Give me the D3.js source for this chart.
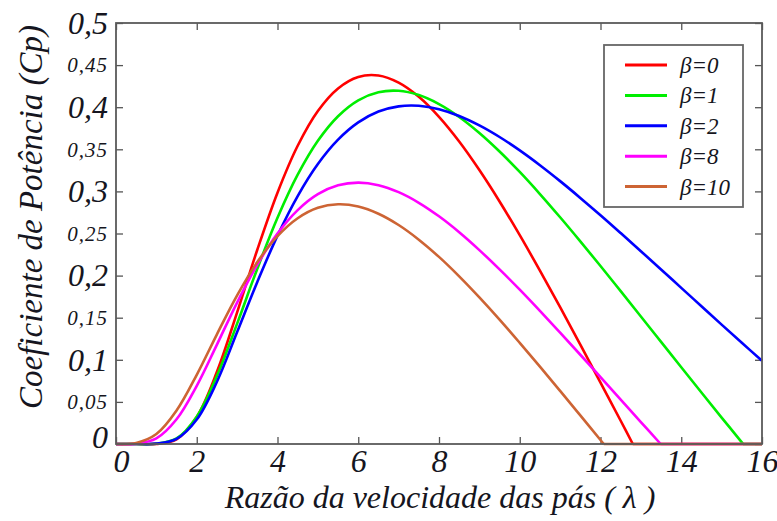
<!DOCTYPE html>
<html>
<head>
<meta charset="utf-8">
<script src="https://cdn.jsdelivr.net/npm/d3@7"></script>
<style>
    body { margin: 0; background: #fff; }
    svg text { font-family: "Liberation Serif", "Times New Roman", serif; font-style: italic; fill: #151520; }
</style>
</head>
<body>
<script>
// tip speed ratio samples (0 .. 16, step 0.5)
var lambdaSamples = [0, 0.5, 1, 1.5, 2, 2.5, 3, 3.5, 4, 4.5, 5, 5.5, 6, 6.5, 7, 7.5, 8,
    8.5, 9, 9.5, 10, 10.5, 11, 11.5, 12, 12.5, 13, 13.5, 14, 14.5, 15, 15.5, 16];

// Cp for each pitch angle
var cpBeta0 = [0, 0, 0.0001, 0.0056, 0.0322, 0.0857, 0.1564, 0.2307, 0.2985, 0.3542, 0.3955,
    0.4223, 0.4359, 0.4376, 0.4291, 0.4123, 0.3885, 0.3592, 0.3253, 0.2880, 0.2480, 0.2059,
    0.1625, 0.1180, 0.0730, 0.0276, 0, 0, 0, 0, 0, 0, 0];
var cpBeta1 = [0, 0, 0.0003, 0.0066, 0.0325, 0.0809, 0.1430, 0.2082, 0.2686, 0.3198, 0.3601,
    0.3893, 0.4082, 0.4178, 0.4195, 0.4144, 0.4037, 0.3884, 0.3694, 0.3474, 0.3231, 0.2969,
    0.2693, 0.2407, 0.2114, 0.1815, 0.1515, 0.1213, 0.0911, 0.0611, 0.0314, 0.0019, 0];
var cpBeta2 = [0, 0, 0.0004, 0.0060, 0.0290, 0.0740, 0.1330, 0.1925, 0.2475, 0.2945, 0.3325,
    0.3614, 0.3819, 0.3948, 0.4010, 0.4017, 0.3976, 0.3896, 0.3784, 0.3646, 0.3487, 0.3311,
    0.3122, 0.2923, 0.2717, 0.2505, 0.2290, 0.2073, 0.1854, 0.1636, 0.1418, 0.1202, 0.0988];
var cpBeta8 = [0, 0.0004, 0.0067, 0.0294, 0.0691, 0.1181, 0.1680, 0.2130, 0.2500, 0.2778, 0.2967,
    0.3072, 0.3104, 0.3074, 0.2991, 0.2865, 0.2704, 0.2515, 0.2303, 0.2074, 0.1833, 0.1581,
    0.1322, 0.1060, 0.0794, 0.0527, 0.0261, 0, 0, 0, 0, 0, 0];
var cpBeta10 = [0, 0.0012, 0.0118, 0.0398, 0.0822, 0.1303, 0.1766, 0.2161, 0.2468, 0.2681, 0.2805,
    0.2847, 0.2821, 0.2735, 0.2601, 0.2427, 0.2222, 0.1991, 0.1741, 0.1477, 0.1201, 0.0919,
    0.0631, 0.0340, 0.0048, 0, 0, 0, 0, 0, 0, 0, 0];

// where each curve reaches zero (null: still positive at 16)
var zeroCrossing = [12.80, 15.53, null, 13.49, 12.08];

var betaLabels = ["β=0", "β=1", "β=2", "β=8", "β=10"];
var seriesValues = [cpBeta0, cpBeta1, cpBeta2, cpBeta8, cpBeta10];
var seriesColors = ["#ff0000", "#00ee00", "#0000ff", "#ff00ff", "#cd6434"];

var lambdaTicks = [0, 2, 4, 6, 8, 10, 12, 14, 16];
var cpTicks = [0, 0.05, 0.1, 0.15, 0.2, 0.25, 0.3, 0.35, 0.4, 0.45, 0.5];
var cpTickLabels = ["0", "0,05", "0,1", "0,15", "0,2", "0,25", "0,3", "0,35", "0,4", "0,45", "0,5"];

var W = 777, H = 521;
var pLeft = 116, pRight = 762, pTop = 23, pBottom = 444;

var svg = d3.select("body").append("svg")
    .attr("width", W)
    .attr("height", H);

var x = d3.scaleLinear().domain([0, 16]).range([pLeft, pRight]);
var y = d3.scaleLinear().domain([0, 0.5]).range([pBottom, pTop]);

// ticks on all four sides, pointing inward
var xAxis = svg.append("g")
    .attr("transform", "translate(0," + pBottom + ")")
    .call(d3.axisBottom(x).tickValues(lambdaTicks).tickSizeInner(-7).tickSizeOuter(0).tickPadding(5)
        .tickFormat(function (d) { return d; }));
xAxis.select(".domain").remove();
xAxis.selectAll("line").attr("stroke", "#555").attr("stroke-width", 1.3);
xAxis.selectAll("text")
    .attr("font-size", 32)
    .attr("fill", "#151520")
    .attr("dy", "0.72em");
// first label sits a little right of the corner
xAxis.selectAll("text").filter(function (d) { return d === 0; }).attr("dx", 5);

var xTop = svg.append("g")
    .attr("transform", "translate(0," + pTop + ")")
    .call(d3.axisTop(x).tickValues(lambdaTicks).tickSizeInner(-7).tickSizeOuter(0).tickFormat(""));
xTop.select(".domain").remove();
xTop.selectAll("line").attr("stroke", "#555").attr("stroke-width", 1.3);

var yAxis = svg.append("g")
    .attr("transform", "translate(" + pLeft + ",0)")
    .call(d3.axisLeft(y).tickValues(cpTicks).tickSizeInner(-7).tickSizeOuter(0).tickPadding(8)
        .tickFormat(function (d, i) { return cpTickLabels[i]; }));
yAxis.select(".domain").remove();
yAxis.selectAll("line").attr("stroke", "#555").attr("stroke-width", 1.3);
yAxis.selectAll("text")
    .attr("fill", "#151520")
    .attr("font-size", function (d, i) { return i % 2 === 0 ? 32 : 21; })
    .attr("letter-spacing", function (d, i) { return i % 2 === 0 ? 0 : 1; });
yAxis.selectAll("text").filter(function (d) { return d === 0; }).attr("dy", "0.1em");

var yRight = svg.append("g")
    .attr("transform", "translate(" + pRight + ",0)")
    .call(d3.axisRight(y).tickValues(cpTicks).tickSizeInner(-7).tickSizeOuter(0).tickFormat(""));
yRight.select(".domain").remove();
yRight.selectAll("line").attr("stroke", "#555").attr("stroke-width", 1.3);

// curves
var line = d3.line()
    .x(function (d) { return x(d[0]); })
    .y(function (d) { return y(d[1]); })
    .curve(d3.curveCatmullRom.alpha(0.5));

seriesValues.forEach(function (vals, k) {
    var z = zeroCrossing[k];
    var pts = [];
    lambdaSamples.forEach(function (l, i) {
        if (z === null || l < z) pts.push([l, vals[i]]);
    });
    if (z !== null) pts.push([z, 0]);

    svg.append("path")
        .attr("d", line(pts))
        .attr("fill", "none")
        .attr("stroke", seriesColors[k])
        .attr("stroke-width", 2.6);

    // clipped part lying on the axis
    if (z !== null) {
        svg.append("line")
            .attr("x1", x(z)).attr("y1", y(0))
            .attr("x2", x(16)).attr("y2", y(0))
            .attr("stroke", seriesColors[k])
            .attr("stroke-width", 2.6);
    }
});

// frame
svg.append("rect")
    .attr("x", pLeft).attr("y", pTop)
    .attr("width", pRight - pLeft).attr("height", pBottom - pTop)
    .attr("fill", "none")
    .attr("stroke", "#5a5a5a")
    .attr("stroke-width", 1.8);

// axis titles
svg.append("text")
    .attr("x", 440).attr("y", 508)
    .attr("text-anchor", "middle")
    .attr("font-size", 32)
    .text("Razão da velocidade das pás ( λ )");

svg.append("text")
    .attr("transform", "translate(42," + 217 + ") rotate(-90)")
    .attr("text-anchor", "middle")
    .attr("font-size", 33)
    .text("Coeficiente de Potência (Cp)");

// legend
var lg = svg.append("g").attr("transform", "translate(604,45)");
lg.append("rect")
    .attr("width", 139).attr("height", 162)
    .attr("fill", "#fff")
    .attr("stroke", "#666")
    .attr("stroke-width", 1.8);

betaLabels.forEach(function (b, i) {
    var ry = 20 + i * 30.4;
    lg.append("line")
        .attr("x1", 21).attr("x2", 63)
        .attr("y1", ry).attr("y2", ry)
        .attr("stroke", seriesColors[i])
        .attr("stroke-width", 3);
    lg.append("text")
        .attr("x", 76).attr("y", ry)
        .attr("dy", "0.35em")
        .attr("font-size", 23)
        .text(b);
});
</script>
</body>
</html>
